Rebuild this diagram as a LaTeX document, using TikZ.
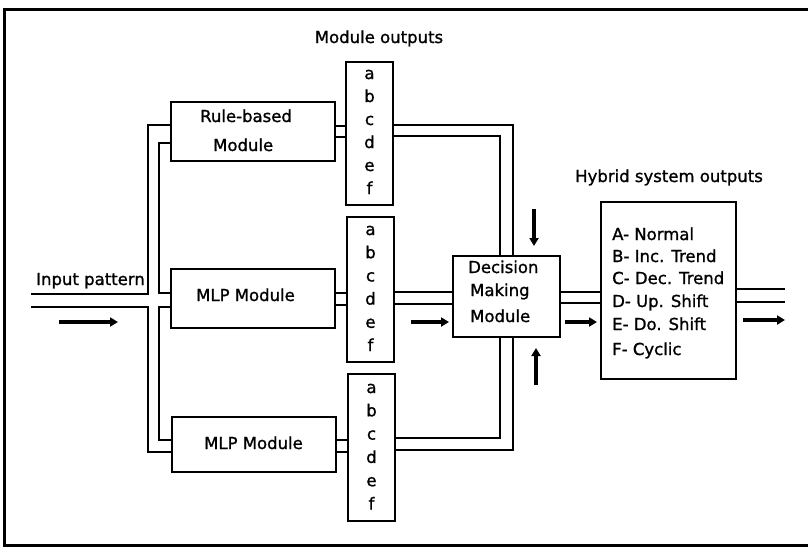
\documentclass[tikz,border=0pt]{standalone}
\usepackage{fontspec}
\setmainfont{DejaVu Sans}[FakeBold=1.2]
\usetikzlibrary{arrows.meta,calc}
\begin{document}
\begin{tikzpicture}[x=1pt,y=-1pt,
  box/.style={draw,line width=1.8pt,inner sep=0pt,minimum width=#1},
  pipe/.style={line width=2.3pt},
  flow/.style={line width=3.6pt,-{Triangle[length=8pt,width=9pt]}},
  frame/.style={line width=3pt},
  txt/.style={font=\fontsize{16.5}{20}\selectfont,inner sep=0pt},
  lbl/.style={txt,anchor=base west},
  ltr/.style={txt,anchor=base}]
\useasboundingbox (0,0) rectangle (808,547);
\draw[frame] (808,9) -- (4,9) -- (4,545) -- (808,545);

% boxes
\node[box=164pt,minimum height=59pt] (rule) at (253,131.5) {};
\node[box=164pt,minimum height=59pt] (mlp1) at (253,298.5) {};
\node[box=164pt,minimum height=55pt] (mlp2) at (254,444.5) {};
\node[box=47pt,minimum height=143pt] (col1) at (369.5,133.5) {};
\node[box=47pt,minimum height=145pt] (col2) at (370.5,289.5) {};
\node[box=47pt,minimum height=147pt] (col3) at (371.5,447.5) {};
\node[box=107pt,minimum height=81pt] (dec) at (506.5,296.5) {};
\node[box=135pt,minimum height=177pt] (hyb) at (668.5,290.5) {};

% texts
\node[txt,anchor=base] (tmo) at (379,43) {Module outputs};
\node[lbl] (tin) at (36,285) {Input pattern};
\node[lbl] (thy) at (575,182) {Hybrid system outputs};
\node[lbl] (tr1) at (200,122) {Rule-based};
\node[lbl] (tr2) at (213,151) {Module};
\node[lbl] (tm1) at (196,301) {MLP Module};
\node[lbl] (tm2) at (204,449) {MLP Module};
\node[lbl] (td1) at (468,273) {Decision};
\node[lbl] (td2) at (470,296) {Making};
\node[lbl] (td3) at (470,322) {Module};
\node[lbl] (ha) at (612,240) {A- Normal};
\node[lbl] (hb) at (612,262) {B- Inc. Trend};
\node[lbl] (hc) at (612,284) {C- Dec. Trend};
\node[lbl] (hd) at (612,307) {D- Up. Shift};
\node[lbl] (he) at (612,330) {E- Do. Shift};
\node[lbl] (hf) at (612,355) {F- Cyclic};

\foreach \l [count=\i from 0] in {a,b,c,d,e,f}{
  \node[ltr] (c1\l) at (369.5,79+23*\i) {\l};
  \node[ltr] (c2\l) at (370.5,235+23.2*\i) {\l};
  \node[ltr] (c3\l) at (371.5,393+23.3*\i) {\l};
}

% input pipes
\coordinate (in1) at (31,294);
\coordinate (in2) at (31,307);
\draw[pipe] (in1) -- (148,294) |- (rule.west|-0,125);
\draw[pipe] (rule.west|-0,143) -| (159,293) -- (mlp1.west|-0,293);
\draw[pipe] (in2) -- (148,307) |- (mlp2.west|-0,452);
\draw[pipe] (mlp1.west|-0,307) -| (159,440) -- (mlp2.west|-0,440);

% module to column
\draw[pipe] (rule.east|-0,126) -- (col1.west|-0,126);
\draw[pipe] (rule.east|-0,137) -- (col1.west|-0,137);
\draw[pipe] (mlp1.east|-0,293) -- (col2.west|-0,293);
\draw[pipe] (mlp1.east|-0,305) -- (col2.west|-0,305);
\draw[pipe] (mlp2.east|-0,440) -- (col3.west|-0,440);
\draw[pipe] (mlp2.east|-0,452) -- (col3.west|-0,452);

% columns to decision
\draw[pipe] (col1.east|-0,125) -| (dec.north-|513,0);
\draw[pipe] (col1.east|-0,136) -| (dec.north-|500,0);
\draw[pipe] (col2.east|-0,292) -- (dec.west|-0,292);
\draw[pipe] (col2.east|-0,304) -- (dec.west|-0,304);
\draw[pipe] (col3.east|-0,438) -| (dec.south-|500,0);
\draw[pipe] (col3.east|-0,450) -| (dec.south-|513,0);

% decision to hybrid, hybrid out
\draw[pipe] (dec.east|-0,292) -- (hyb.west|-0,292);
\draw[pipe] (dec.east|-0,303) -- (hyb.west|-0,303);
\coordinate (out1) at (785,289);
\coordinate (out2) at (785,302);
\draw[pipe] (hyb.east|-0,289) -- (out1);
\draw[pipe] (hyb.east|-0,302) -- (out2);

% flow arrows
\coordinate (a1s) at (59,322);  \coordinate (a1e) at (118,322);
\coordinate (a2s) at (411,322); \coordinate (a2e) at (449,322);
\coordinate (a3s) at (565,322); \coordinate (a3e) at (597,322);
\coordinate (a4s) at (743,320); \coordinate (a4e) at (785,320);
\coordinate (a5s) at (534,209); \coordinate (a5e) at (534,246);
\coordinate (a6s) at (536,385); \coordinate (a6e) at (536,348);
\foreach \n in {1,...,6} \draw[flow] (a\n s) -- (a\n e);
\end{tikzpicture}
\end{document}
